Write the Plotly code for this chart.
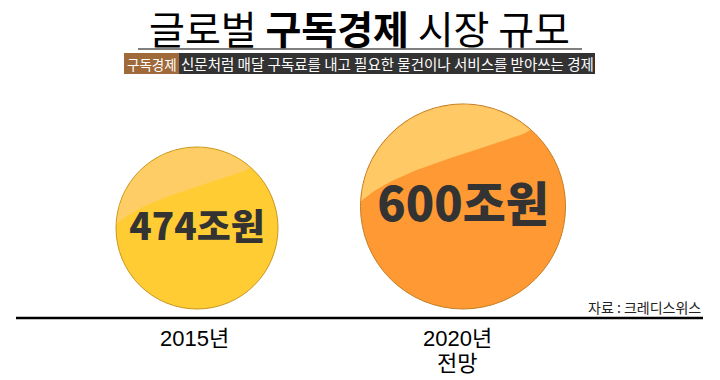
import numpy as np
import plotly.graph_objects as go

# ---------------- data ----------------
categories = ["2015년", "2020년 전망"]
label_lines = [["2015년"], ["2020년", "전망"]]
values = [474, 600]          # 조원
unit = "조원"

title_regular_1 = "글로벌 "
title_bold = "구독경제"
title_regular_2 = " 시장 규모"
tag_text = "구독경제"
definition_text = "신문처럼 매달 구독료를 내고 필요한 물건이나 서비스를 받아쓰는 경제"
source_text = "자료 : 크레디스위스"

# ---------------- style ----------------
W, H = 720, 380
cat_x = [197, 463]           # horizontal slot of each category (px)
baseline = 309               # circles sit on this line (px)
px_per_unit = 162 / 474      # circle diameter per 조원
fill_colors = ["#FFCC33", "#FF9933"]
gloss_colors = ["#FFCD66", "#FFC966"]
border_colors = ["#C8961E", "#C27F26"]
value_font_ratio = 0.228     # value label font size relative to diameter
FONT = "Noto Sans CJK KR"
LABEL_FONT = "Liberation Sans, Arial, Noto Sans CJK KR"

diam = [v * px_per_unit for v in values]
cy = [baseline - d / 2 for d in diam]

fig = go.Figure()

# circles (size encodes value)
fig.add_trace(go.Scatter(
    x=cat_x, y=cy, mode="markers",
    marker=dict(size=diam, sizemode="diameter", color=fill_colors,
                line=dict(color=border_colors, width=1), opacity=1),
    hoverinfo="skip", showlegend=False))

# gloss highlight on each circle
def bezier(p0, p1, p2, p3, n=60):
    t = np.linspace(0, 1, n)[:, None]
    return ((1 - t) ** 3) * p0 + 3 * ((1 - t) ** 2) * t * p1 + 3 * (1 - t) * t ** 2 * p2 + t ** 3 * p3

for i in range(len(values)):
    r = diam[i] / 2 - 0.6
    cx, c_y = cat_x[i], cy[i]
    a_end = np.degrees(np.arctan2(0.75, 0.66))
    a_start = 177.0
    ang = np.radians(np.linspace(a_end, a_start, 80))
    arc = np.column_stack([np.cos(ang), -np.sin(ang)])
    p0 = np.array([np.cos(np.radians(a_start)), -np.sin(np.radians(a_start))])
    p3 = np.array([np.cos(np.radians(a_end)), -np.sin(np.radians(a_end))])
    curve = bezier(p0, np.array([-0.6, -0.42]), np.array([0.45, -0.6]), p3)
    pts = np.vstack([arc, curve])
    fig.add_trace(go.Scatter(
        x=cx + r * pts[:, 0], y=c_y + r * pts[:, 1], mode="lines",
        fill="toself", fillcolor=gloss_colors[i], line=dict(width=0),
        hoverinfo="skip", showlegend=False))

# value labels
fig.add_trace(go.Scatter(
    x=cat_x, y=[c + 3 for c in cy], mode="text",
    text=[f"{v}{unit}" for v in values],
    textposition="middle center",
    textfont=dict(family=FONT, size=[d * value_font_ratio for d in diam],
                  color="#333333", weight=900),
    hoverinfo="skip", showlegend=False))

shapes = [
    # title underline
    dict(type="line", xref="x", yref="y", x0=138, x1=582, y0=49, y1=49,
         line=dict(color="black", width=1)),
    # tag box + definition box
    dict(type="rect", xref="x", yref="y", x0=124, x1=179, y0=53, y1=74,
         fillcolor="#A0693A", line=dict(width=0), layer="below"),
    dict(type="rect", xref="x", yref="y", x0=179, x1=595, y0=53, y1=74,
         fillcolor="#333333", line=dict(width=0), layer="below"),
    # base line
    dict(type="line", xref="x", yref="y", x0=16, x1=703, y0=318, y1=318,
         line=dict(color="black", width=2.5)),
]

annotations = [
    dict(x=359, y=27, xref="x", yref="y", showarrow=False,
         text=f"{title_regular_1}<b>{title_bold}</b>{title_regular_2}",
         font=dict(family=FONT, size=39, color="black"),
         xanchor="center", yanchor="middle"),
    dict(x=151.5, y=63.5, xref="x", yref="y", showarrow=False, text=tag_text,
         font=dict(family=FONT, size=13.5, color="white"),
         xanchor="center", yanchor="middle"),
    dict(x=387, y=63.5, xref="x", yref="y", showarrow=False, text=definition_text,
         font=dict(family=FONT, size=14.5, color="white"),
         xanchor="center", yanchor="middle"),
    dict(x=703, y=307, xref="x", yref="y", showarrow=False, text=source_text,
         font=dict(family=FONT, size=14, color="#222222"),
         xanchor="right", yanchor="middle"),
]
for i, lines in enumerate(label_lines):
    for j, line in enumerate(lines):
        annotations.append(dict(
            x=cat_x[i] - 3 - 3 * i, y=338 + 25 * j, xref="x", yref="y",
            showarrow=False, text=line,
            font=dict(family=LABEL_FONT, size=22, color="black"),
            xanchor="center", yanchor="middle"))

fig.update_layout(
    width=W, height=H, autosize=False,
    margin=dict(l=0, r=0, t=0, b=0, pad=0),
    paper_bgcolor="white", plot_bgcolor="white",
    xaxis=dict(range=[0, W], visible=False, fixedrange=True),
    yaxis=dict(range=[H, 0], visible=False, fixedrange=True),
    shapes=shapes, annotations=annotations, showlegend=False,
)

fig.write_html("out.html")
